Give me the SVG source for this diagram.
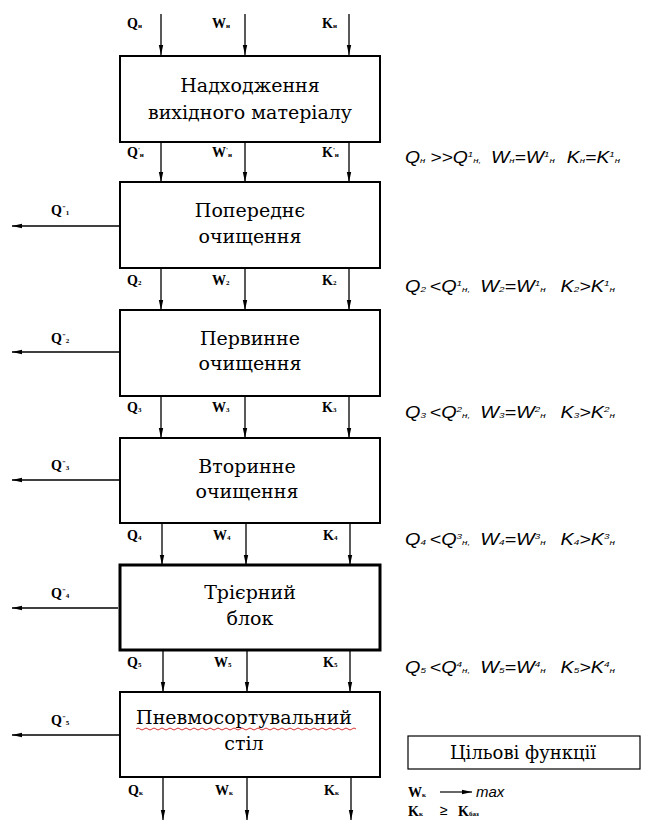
<svg xmlns="http://www.w3.org/2000/svg" width="650" height="823" viewBox="0 0 650 823">
<defs>
<marker id="ah" viewBox="0 0 10 6" refX="10" refY="3" markerWidth="10" markerHeight="6" markerUnits="userSpaceOnUse" orient="auto">
<path d="M0,0.8 L10,3 L0,5.2 Z" fill="#000"/>
</marker>
<style>
.box{fill:#fff;stroke:#000;stroke-width:2}
.thick{stroke-width:3}
.t{font-family:"DejaVu Serif","Liberation Serif","Times New Roman",serif;font-size:19px;fill:#000;text-anchor:middle}
.lb{font-family:"Liberation Serif","DejaVu Serif","Times New Roman",serif;font-size:14px;font-weight:bold;fill:#000}
.s{font-size:7px}
.f{font-family:"Liberation Sans",Arial,sans-serif;font-style:italic;font-size:16px;fill:#000}
.fs{font-size:8px}
.ar{stroke:#000;stroke-width:1.3;fill:none;marker-end:url(#ah)}
.tg{font-family:"DejaVu Serif","Liberation Serif","Times New Roman",serif;font-size:18px;fill:#000;text-anchor:middle}
</style>
</defs>
<rect width="650" height="823" fill="#fff"/>

<g id="connectors">
<path class="ar" d="M161,14 V55"/><path class="ar" d="M245,14 V55"/><path class="ar" d="M349,14 V55"/>
<path class="ar" d="M161,142 V182"/><path class="ar" d="M245,142 V182"/><path class="ar" d="M349,142 V182"/>
<path class="ar" d="M161,268 V310"/><path class="ar" d="M245,268 V310"/><path class="ar" d="M349,268 V310"/>
<path class="ar" d="M161,396 V438"/><path class="ar" d="M245,396 V438"/><path class="ar" d="M349,396 V438"/>
<path class="ar" d="M162,523 V565"/><path class="ar" d="M246,523 V565"/><path class="ar" d="M350,523 V565"/>
<path class="ar" d="M163,650 V692"/><path class="ar" d="M247,650 V692"/><path class="ar" d="M350,650 V692"/>
<path class="ar" d="M163,777 V820"/><path class="ar" d="M247,777 V820"/><path class="ar" d="M351,777 V820"/>
<path class="ar" d="M120,226 H12"/>
<path class="ar" d="M120,352 H12"/>
<path class="ar" d="M120,480 H12"/>
<path class="ar" d="M118,608 H12"/>
<path class="ar" d="M120,735 H12"/>
<path class="ar" d="M440,792 H472" style="stroke-width:1.2"/>
</g>

<g id="labels">
<text class="lb" x="127" y="28">Q<tspan class="s">н</tspan></text>
<text class="lb" x="212" y="28">W<tspan class="s">н</tspan></text>
<text class="lb" x="322" y="28">K<tspan class="s">н</tspan></text>
<text class="lb" x="127" y="157">Q<tspan class="s" dy="-5">'</tspan><tspan class="s" dy="5">н</tspan></text>
<text class="lb" x="212" y="157">W<tspan class="s" dy="-5">'</tspan><tspan class="s" dy="5">н</tspan></text>
<text class="lb" x="322" y="157">K<tspan class="s" dy="-5">'</tspan><tspan class="s" dy="5">н</tspan></text>
<text class="lb" x="127" y="285">Q<tspan class="s">2</tspan></text>
<text class="lb" x="212" y="285">W<tspan class="s">2</tspan></text>
<text class="lb" x="322" y="285">K<tspan class="s">2</tspan></text>
<text class="lb" x="127" y="412">Q<tspan class="s">3</tspan></text>
<text class="lb" x="212" y="412">W<tspan class="s">3</tspan></text>
<text class="lb" x="322" y="412">K<tspan class="s">3</tspan></text>
<text class="lb" x="127" y="540">Q<tspan class="s">4</tspan></text>
<text class="lb" x="213" y="540">W<tspan class="s">4</tspan></text>
<text class="lb" x="323" y="540">K<tspan class="s">4</tspan></text>
<text class="lb" x="127" y="667">Q<tspan class="s">5</tspan></text>
<text class="lb" x="214" y="667">W<tspan class="s">5</tspan></text>
<text class="lb" x="323" y="667">K<tspan class="s">5</tspan></text>
<text class="lb" x="128" y="795">Q<tspan class="s">к</tspan></text>
<text class="lb" x="215" y="795">W<tspan class="s">к</tspan></text>
<text class="lb" x="324" y="795">K<tspan class="s">к</tspan></text>
<text class="lb" x="51" y="215">Q<tspan class="s" dy="-5">"</tspan><tspan class="s" dy="5">1</tspan></text>
<text class="lb" x="51" y="343">Q<tspan class="s" dy="-5">"</tspan><tspan class="s" dy="5">2</tspan></text>
<text class="lb" x="51" y="470">Q<tspan class="s" dy="-5">"</tspan><tspan class="s" dy="5">3</tspan></text>
<text class="lb" x="51" y="598">Q<tspan class="s" dy="-5">"</tspan><tspan class="s" dy="5">4</tspan></text>
<text class="lb" x="51" y="725">Q<tspan class="s" dy="-5">"</tspan><tspan class="s" dy="5">5</tspan></text>
</g>

<g id="n1"><rect class="box" x="120" y="56" width="260" height="86"/>
<text class="t" x="250" y="92">Надходження</text><text class="t" x="250" y="119">вихідного матеріалу</text></g>
<g id="n2"><rect class="box" x="120" y="182" width="260" height="86"/>
<text class="t" x="250" y="217">Попереднє</text><text class="t" x="250" y="243">очищення</text></g>
<g id="n3"><rect class="box" x="120" y="310" width="260" height="86"/>
<text class="t" x="250" y="345">Первинне</text><text class="t" x="250" y="370">очищення</text></g>
<g id="n4"><rect class="box" x="120" y="438" width="260" height="85"/>
<text class="t" x="247" y="473">Вторинне</text><text class="t" x="247" y="498">очищення</text></g>
<g id="n5"><rect class="box thick" x="120" y="565" width="260" height="85"/>
<text class="t" x="250" y="599">Трієрний</text><text class="t" x="250" y="625">блок</text></g>
<g id="n6"><rect class="box" x="120" y="692" width="260" height="85"/>
<text class="t" x="244" y="724">Пневмосортувальний</text><text class="t" x="244" y="750">стіл</text>
<path d="M136,729 q2,-2 4,0 t4,0 t4,0 t4,0 t4,0 t4,0 t4,0 t4,0 t4,0 t4,0 t4,0 t4,0 t4,0 t4,0 t4,0 t4,0 t4,0 t4,0 t4,0 t4,0 t4,0 t4,0 t4,0 t4,0 t4,0 t4,0 t4,0 t4,0 t4,0 t4,0 t4,0 t4,0 t4,0 t4,0 t4,0 t4,0 t4,0 t4,0 t4,0 t4,0 t4,0 t4,0 t4,0 t4,0 t4,0 t4,0 t4,0 t4,0 t4,0 t4,0 t4,0 t4,0 t4,0 t4,0 t4,0" fill="none" stroke="#c00" stroke-width="0.8"/></g>

<g id="conditions">
<text class="f" x="405" y="163" textLength="215" lengthAdjust="spacingAndGlyphs">Q<tspan class="fs">н</tspan><tspan dx="4">&gt;&gt;Q</tspan><tspan class="fs" dy="-6">1</tspan><tspan class="fs" dy="6">н,</tspan><tspan dx="8">W</tspan><tspan class="fs">н</tspan><tspan>=W</tspan><tspan class="fs" dy="-6">1</tspan><tspan class="fs" dy="6">н</tspan><tspan dx="10">K</tspan><tspan class="fs">н</tspan><tspan>=K</tspan><tspan class="fs" dy="-6">1</tspan><tspan class="fs" dy="6">н</tspan></text>
<text class="f" x="405" y="292" textLength="210" lengthAdjust="spacingAndGlyphs">Q<tspan class="fs">2</tspan><tspan dx="3">&lt;Q</tspan><tspan class="fs" dy="-6">1</tspan><tspan class="fs" dy="6">н,</tspan><tspan dx="8">W</tspan><tspan class="fs">2</tspan><tspan>=W</tspan><tspan class="fs" dy="-6">1</tspan><tspan class="fs" dy="6">н</tspan><tspan dx="12">K</tspan><tspan class="fs">2</tspan><tspan>&gt;K</tspan><tspan class="fs" dy="-6">1</tspan><tspan class="fs" dy="6">н</tspan></text>
<text class="f" x="405" y="418" textLength="210" lengthAdjust="spacingAndGlyphs">Q<tspan class="fs">3</tspan><tspan dx="3">&lt;Q</tspan><tspan class="fs" dy="-6">2</tspan><tspan class="fs" dy="6">н,</tspan><tspan dx="8">W</tspan><tspan class="fs">3</tspan><tspan>=W</tspan><tspan class="fs" dy="-6">2</tspan><tspan class="fs" dy="6">н</tspan><tspan dx="12">K</tspan><tspan class="fs">3</tspan><tspan>&gt;K</tspan><tspan class="fs" dy="-6">2</tspan><tspan class="fs" dy="6">н</tspan></text>
<text class="f" x="405" y="545" textLength="210" lengthAdjust="spacingAndGlyphs">Q<tspan class="fs">4</tspan><tspan dx="3">&lt;Q</tspan><tspan class="fs" dy="-6">3</tspan><tspan class="fs" dy="6">н,</tspan><tspan dx="8">W</tspan><tspan class="fs">4</tspan><tspan>=W</tspan><tspan class="fs" dy="-6">3</tspan><tspan class="fs" dy="6">н</tspan><tspan dx="12">K</tspan><tspan class="fs">4</tspan><tspan>&gt;K</tspan><tspan class="fs" dy="-6">3</tspan><tspan class="fs" dy="6">н</tspan></text>
<text class="f" x="405" y="673" textLength="210" lengthAdjust="spacingAndGlyphs">Q<tspan class="fs">5</tspan><tspan dx="3">&lt;Q</tspan><tspan class="fs" dy="-6">4</tspan><tspan class="fs" dy="6">н,</tspan><tspan dx="8">W</tspan><tspan class="fs">5</tspan><tspan>=W</tspan><tspan class="fs" dy="-6">4</tspan><tspan class="fs" dy="6">н</tspan><tspan dx="12">K</tspan><tspan class="fs">5</tspan><tspan>&gt;K</tspan><tspan class="fs" dy="-6">4</tspan><tspan class="fs" dy="6">н</tspan></text>
</g>

<g id="target">
<rect x="408" y="736" width="232" height="33" fill="#fff" stroke="#000" stroke-width="1.2"/>
<text class="tg" x="523" y="759">Цільові функції</text>
<text class="lb" x="408" y="797">W<tspan class="s">к</tspan></text>
<text class="f" x="476" y="797" style="font-size:15px">max</text>
<text class="lb" x="408" y="816">K<tspan class="s">к</tspan></text>
<text class="f" x="440" y="815" style="font-size:14px">≥</text>
<text class="lb" x="458" y="816">K<tspan class="s">баз</tspan></text>
</g>
</svg>
